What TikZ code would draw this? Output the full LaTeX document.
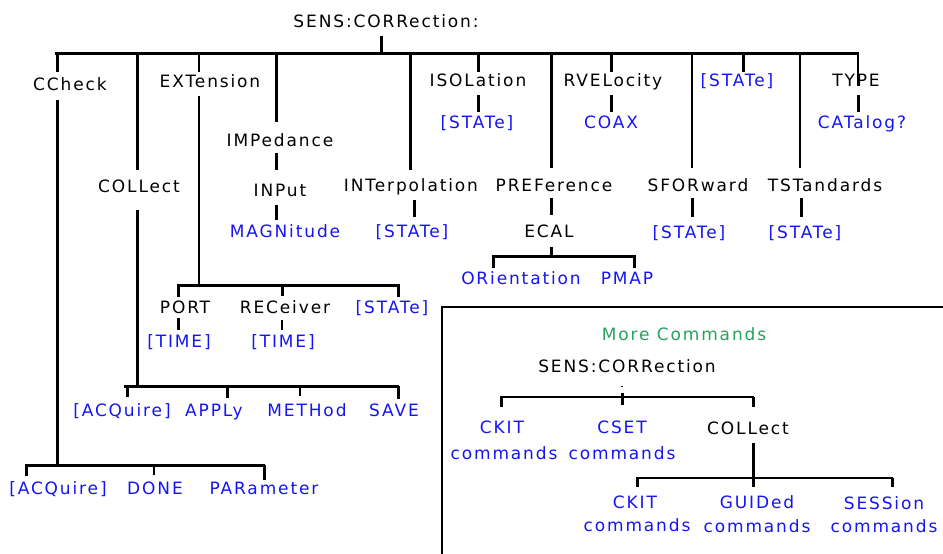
\documentclass[tikz,border=0pt]{standalone}
\usepackage{fontspec}
\newfontfamily\pix[LetterSpace=11]{DejaVu Sans}
\definecolor{cblue}{RGB}{20,20,245}
\definecolor{cgreen}{RGB}{40,160,95}
\begin{document}
\begin{tikzpicture}[x=1pt,y=-1pt,
  lbl/.style={font=\pix\fontsize{17}{20}\selectfont, inner sep=0pt, text height=12.4pt, text depth=0pt, anchor=center},
  blk/.style={lbl, text=black},
  blu/.style={lbl, text=cblue},
  grn/.style={lbl, text=cgreen},
  thk/.style={line width=3pt},
  med/.style={line width=2pt},
  thn/.style={line width=1.2pt},
  frm/.style={line width=1.4pt}]
\useasboundingbox (0,0) rectangle (943,554);

% ---------- labels ----------
\node[blk] (root) at (386,21) {SENS:CORRection:};
\node[blk] (cc)   at (70,84.5) {CCheck};
\node[blk] (ext)  at (210,81) {EXTension};
\node[blk] (imp)  at (280,140) {IMPedance};
\node[blk] (col)  at (139,186) {COLLect};
\node[blk] (inp)  at (280,190) {INPut};
\node[blu] (mag)  at (285,231) {MAGNitude};
\node[blk] (intp) at (411,185) {INTerpolation};
\node[blu] (st1)  at (412,231) {[STATe]};
\node[blk] (iso)  at (478,80) {ISOLation};
\node[blu] (st2)  at (477,122) {[STATe]};
\node[blk] (pref) at (554,185) {PREFerence};
\node[blk] (ecal) at (549,231) {ECAL};
\node[blu] (ori)  at (521,278) {ORientation};
\node[blu] (pmap) at (627,278) {PMAP};
\node[blk] (rvel) at (613,80) {RVELocity};
\node[blu] (coax) at (611,122) {COAX};
\node[blk] (sfor) at (698,185) {SFORward};
\node[blu] (st3)  at (689,232) {[STATe]};
\node[blu] (st4)  at (737,80) {[STATe]};
\node[blk] (tst)  at (825,185) {TSTandards};
\node[blu] (st5)  at (805,232) {[STATe]};
\node[blk] (type) at (856,80) {TYPE};
\node[blu] (cat)  at (862,122) {CATalog?};
\node[blk] (port) at (185,307) {PORT};
\node[blk] (rec)  at (285,307) {RECeiver};
\node[blu] (st6)  at (392,307) {[STATe]};
\node[blu] (tm1)  at (179,341) {[TIME]};
\node[blu] (tm2)  at (283,341) {[TIME]};
\node[blu] (acq1) at (122,410) {[ACQuire]};
\node[blu] (apply) at (214,410) {APPLy};
\node[blu] (meth) at (307,410) {METHod};
\node[blu] (save) at (394,410) {SAVE};
\node[blu] (acq2) at (58,488) {[ACQuire]};
\node[blu] (done) at (155,488) {DONE};
\node[blu] (par)  at (264,488) {PARameter};

% box labels
\node[grn] (more)  at (684,334) {More Commands};
\node[blk] (root2) at (627,366) {SENS:CORRection};
\node[blu] (ck1)   at (502,427) {CKIT};
\node[blu] (ck1b)  at (504,452.8) {commands};
\node[blu] (cs1)   at (622,427) {CSET};
\node[blu] (cs1b)  at (622,452.8) {commands};
\node[blk] (col2)  at (748,428) {COLLect};
\node[blu] (ck2)   at (635,502) {CKIT};
\node[blu] (ck2b)  at (637,525) {commands};
\node[blu] (gd)    at (757,502) {GUIDed};
\node[blu] (gdb)   at (757,526) {commands};
\node[blu] (ss)    at (884,503) {SESSion};
\node[blu] (ssb)   at (884,526) {commands};

% ---------- coordinates ----------
\coordinate (mL) at (55,53);  \coordinate (mR) at (859,53);
\coordinate (mJ) at (381,53);
\coordinate (j1) at (57,53);   \coordinate (j2) at (137,53);
\coordinate (j3) at (199,53);  \coordinate (j4) at (276,53);
\coordinate (j5) at (410,53);  \coordinate (j6) at (478,53);
\coordinate (j7) at (551,53);  \coordinate (j8) at (611,53);
\coordinate (j9) at (692,53);  \coordinate (j10) at (743,53);
\coordinate (j11) at (800,53); \coordinate (j12) at (858,53);
\coordinate (x414) at (414,0);
\coordinate (x801) at (801,0);
% CCheck bar
\coordinate (cL) at (25,465); \coordinate (cR) at (265,465);
\coordinate (cJ) at (57,465);
\coordinate (c1) at (26,465); \coordinate (c2) at (154,465); \coordinate (c3) at (264,465);
% COLLect bar
\coordinate (kL) at (124,386); \coordinate (kR) at (399,386);
\coordinate (kJ) at (137,386);
\coordinate (k1) at (127,386); \coordinate (k2) at (227,386);
\coordinate (k3) at (300,386); \coordinate (k4) at (398,386);
% EXTension bar
\coordinate (eL) at (177,285); \coordinate (eR) at (400,285);
\coordinate (eJ) at (199,285);
\coordinate (e1) at (178.5,285); \coordinate (e2) at (282,285); \coordinate (e3) at (398.5,285);
% ECAL bar
\coordinate (aL) at (491.5,256); \coordinate (aR) at (635.5,256);
\coordinate (aJ) at (551,256);
\coordinate (a1) at (493,256); \coordinate (a2) at (634,256);
% box bars
\coordinate (bL) at (500,397); \coordinate (bR) at (754,397);
\coordinate (b1) at (501,397); \coordinate (bJ) at (622,397); \coordinate (b3) at (753,397);
\coordinate (dot) at (622,386.5);
\coordinate (gL) at (636,478); \coordinate (gR) at (893,478);
\coordinate (g1) at (637,478); \coordinate (gJ) at (753,478); \coordinate (g3) at (892,478);

% ---------- main tree ----------
\draw[thk, shorten <=9pt] (mJ |- root.south) -- (mJ);
\draw[thk] (mL) -- (mR);
\draw[thk, shorten >=6pt]  (j1) -- (j1 |- cc.north);
\draw[thk, shorten >=10pt] (j2) -- (j2 |- col.north);
\draw[thn, shorten >=3pt]  (j3) -- (j3 |- ext.north);
\draw[thk, shorten >=12pt] (j4) -- (j4 |- imp.north);
\draw[thk, shorten >=9pt]  (j5) -- (j5 |- intp.north);
\draw[thk, shorten >=2pt]  (j6) -- (j6 |- iso.north);
\draw[thk, shorten >=11pt] (j7) -- (j7 |- pref.north);
\draw[thk, shorten >=2pt]  (j8) -- (j8 |- rvel.north);
\draw[thn, shorten >=11pt] (j9) -- (j9 |- sfor.north);
\draw[thk, shorten >=2pt]  (j10) -- (j10 |- st4.north);
\draw[thn, shorten >=11pt] (j11) -- (j11 |- tst.north);
\draw[thn] (j12) -- (j12 |- type.south);

% short links
\draw[thk, shorten <=7pt, shorten >=14pt] (j4 |- imp.south) -- (j4 |- inp.north);
\draw[thk, shorten <=9pt, shorten >=5pt]  (j4 |- inp.south) -- (j4 |- mag.north);
\draw[thk, shorten <=9pt, shorten >=8pt]  (x414 |- intp.south) -- (x414 |- st1.north);
\draw[thk, shorten <=9pt, shorten >=4pt]  (j6 |- iso.south) -- (j6 |- st2.north);
\draw[thk, shorten <=7pt, shorten >=10pt] (j7 |- pref.south) -- (j7 |- ecal.north);
\draw[thk, shorten <=9pt, shorten >=4pt]  (j8 |- rvel.south) -- (j8 |- coax.north);
\draw[thk, shorten <=7pt, shorten >=9pt]  (j9 |- sfor.south) -- (j9 |- st3.north);
\draw[thk, shorten <=7pt, shorten >=9pt]  (x801 |- tst.south) -- (x801 |- st5.north);
\draw[thk, shorten <=9pt, shorten >=4pt]  (j12 |- type.south) -- (j12 |- cat.north);
\draw[thk, shorten <=5pt, shorten >=5pt]  (e1 |- port.south) -- (e1 |- tm1.north);
\draw[thn, shorten <=7pt, shorten >=5pt]  (e2 |- rec.south) -- (e2 |- tm2.north);

% ECAL sub-bar
\draw[thk, shorten <=10pt] (aJ |- ecal.south) -- (aJ);
\draw[thk] (aL) -- (aR);
\draw[thk, shorten >=4pt] (a1) -- (a1 |- ori.north);
\draw[thk, shorten >=4pt] (a2) -- (a2 |- pmap.north);

% EXTension sub-bar
\draw[thn, shorten <=9pt] (j3 |- ext.south) -- (eJ);
\draw[thk] (eL) -- (eR);
\draw[thk, shorten >=4pt] (e1) -- (e1 |- port.north);
\draw[thk, shorten >=5pt] (e2) -- (e2 |- rec.north);
\draw[thk, shorten >=4pt] (e3) -- (e3 |- st6.north);

% COLLect sub-bar
\draw[thk, shorten <=18pt] (j2 |- col.south) -- (kJ);
\draw[thk] (kL) -- (kR);
\draw[thk, shorten >=7pt] (k1) -- (k1 |- acq1.north);
\draw[thk, shorten >=6pt] (k2) -- (k2 |- apply.north);
\draw[thn, shorten >=8pt] (k3) -- (k3 |- meth.north);
\draw[thk, shorten >=5pt] (k4) -- (k4 |- save.north);

% CCheck sub-bar
\draw[thk, shorten <=9pt] (j1 |- cc.south) -- (cJ);
\draw[thk] (cL) -- (cR);
\draw[thk, shorten >=6pt] (c1) -- (c1 |- acq2.north);
\draw[med, shorten >=7pt] (c2) -- (c2 |- done.north);
\draw[thk, shorten >=2pt] (c3) -- (c3 |- par.north);

% ---------- More Commands box ----------
\draw[frm] (442,554) -- (442,307) -- (943,307);
\fill (dot) circle (0.9pt);
\draw[med] (bL) -- (bR);
\draw[thk, shorten <=21pt, shorten >=16pt] (bJ |- root2.south) -- (bJ |- cs1.north);
\draw[thk, shorten >=14pt] (b1) -- (b1 |- ck1.north);
\draw[thk, shorten >=15pt] (b3) -- (b3 |- col2.north);
\draw[thk, shorten <=9pt, shorten >=9pt] (gJ |- col2.south) -- (gJ |- gd.north);
\draw[med] (gL) -- (gR);
\draw[thk, shorten >=9pt]  (g1) -- (g1 |- ck2.north);
\draw[thk, shorten >=10pt] (g3) -- (g3 |- ss.north);
\end{tikzpicture}
\end{document}
